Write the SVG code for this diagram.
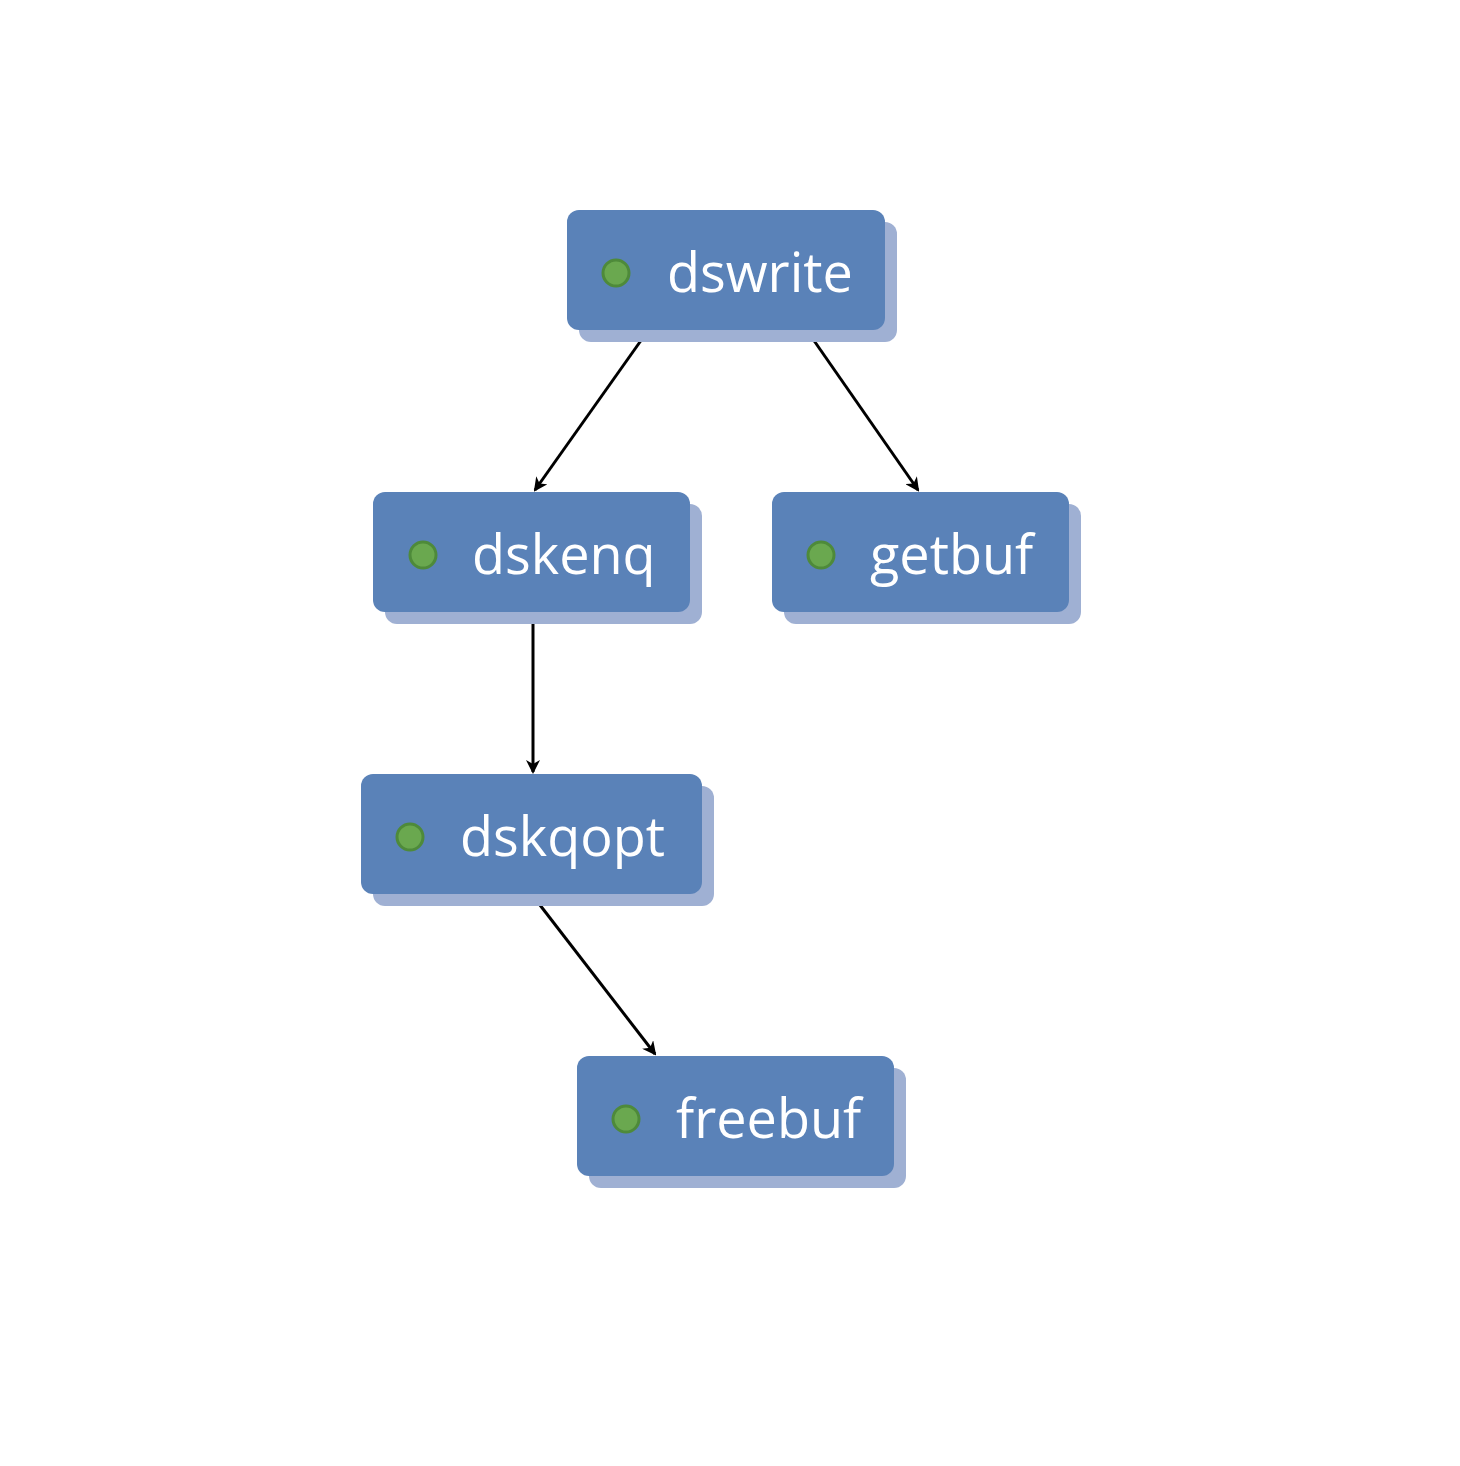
<svg xmlns="http://www.w3.org/2000/svg" width="1460" height="1466" viewBox="0 0 1460 1466">
<style>
.sh{fill:#9fb0d3}
.bx{fill:#5a82b8}
.t{font-family:"Open Sans","DejaVu Sans",sans-serif;font-size:54px;fill:#fff}
.dot{fill:#6aa84f;stroke:#4e8a3a;stroke-width:3}
.e{stroke:#000;stroke-width:3;fill:none}
</style>
<defs>
<marker id="a" markerWidth="14" markerHeight="14" refX="12" refY="7" orient="auto" markerUnits="userSpaceOnUse" viewBox="0 0 14 14">
<path d="M0,0 L14,7 L0,14 L4,7 Z" fill="#000"/>
</marker>
</defs>
<rect width="1460" height="1466" fill="#fff"/>
<g id="edges">
<line class="e" x1="647" y1="332" x2="535" y2="490" marker-end="url(#a)"/>
<line class="e" x1="808" y1="332" x2="918" y2="490" marker-end="url(#a)"/>
<line class="e" x1="533" y1="614" x2="533" y2="772" marker-end="url(#a)"/>
<line class="e" x1="533" y1="896" x2="655" y2="1054" marker-end="url(#a)"/>
</g>
<g id="dswrite"><rect class="sh" x="579" y="222" width="318" height="120" rx="12"/><rect class="bx" x="567" y="210" width="318" height="120" rx="12"/><circle class="dot" cx="616" cy="273" r="13"/><text class="t" x="667" y="292">dswrite</text></g>
<g id="dskenq"><rect class="sh" x="385" y="504" width="317" height="120" rx="12"/><rect class="bx" x="373" y="492" width="317" height="120" rx="12"/><circle class="dot" cx="423" cy="555" r="13"/><text class="t" x="472" y="574">dskenq</text></g>
<g id="getbuf"><rect class="sh" x="784" y="504" width="297" height="120" rx="12"/><rect class="bx" x="772" y="492" width="297" height="120" rx="12"/><circle class="dot" cx="821" cy="555" r="13"/><text class="t" x="870" y="574">getbuf</text></g>
<g id="dskqopt"><rect class="sh" x="373" y="786" width="341" height="120" rx="12"/><rect class="bx" x="361" y="774" width="341" height="120" rx="12"/><circle class="dot" cx="410" cy="837" r="13"/><text class="t" x="460" y="856">dskqopt</text></g>
<g id="freebuf"><rect class="sh" x="589" y="1068" width="317" height="120" rx="12"/><rect class="bx" x="577" y="1056" width="317" height="120" rx="12"/><circle class="dot" cx="626" cy="1119" r="13"/><text class="t" x="676" y="1138">freebuf</text></g>
</svg>
